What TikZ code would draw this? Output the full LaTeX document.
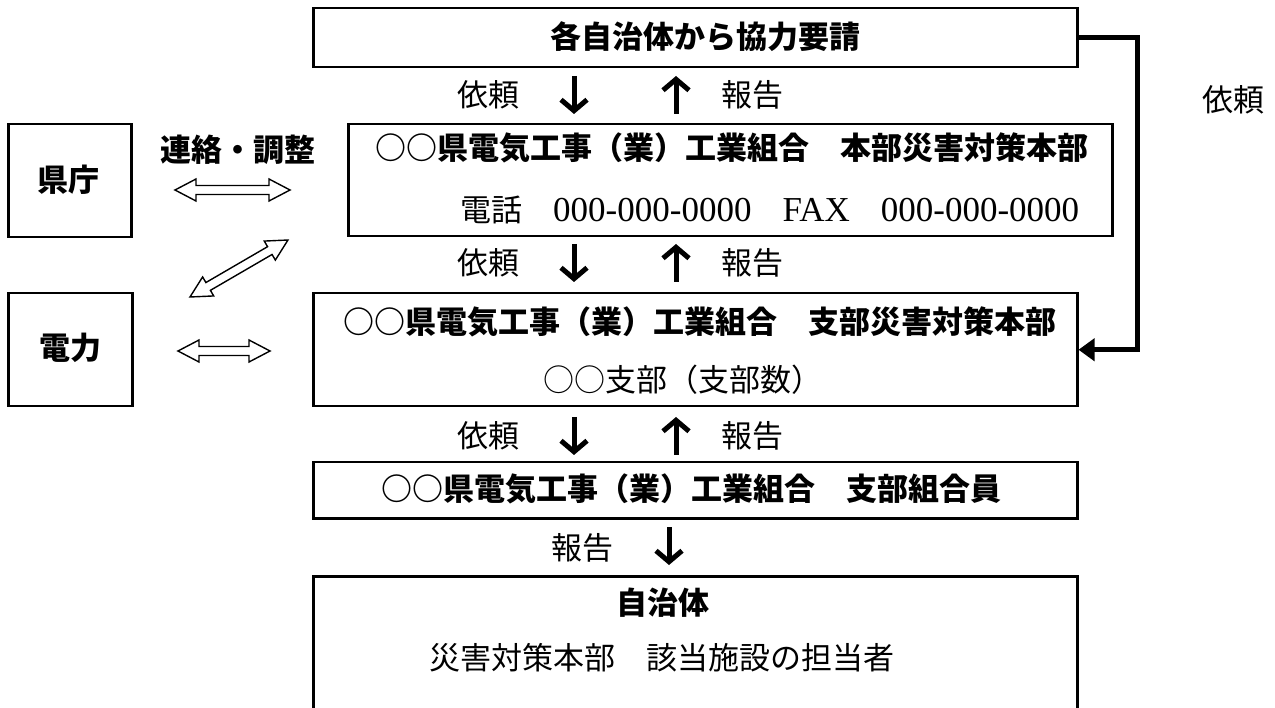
\documentclass[tikz,border=0pt]{standalone}
\usepackage{fontspec}
\newfontfamily\jp{Noto Sans CJK JP}
\newfontfamily\lat{Liberation Serif}
\usetikzlibrary{arrows.meta,calc}
\newcommand\hollowdbl[2]{%
  \path let \p1=(#1), \p2=(#2), \n1={atan2(\y2-\y1,\x2-\x1)}, \n2={veclen(\x2-\x1,\y2-\y1)} in
    \pgfextra{\xdef\dblang{\n1}\xdef\dbllen{\n2}};
  \begin{scope}[shift={(#1)}, rotate=\dblang, x=1pt, y=1pt]
    \draw[hollow] (0,0) -- (21,11) -- (21,4.5) -- (\dbllen-21,4.5) -- (\dbllen-21,11) -- (\dbllen,0)
      -- (\dbllen-21,-11) -- (\dbllen-21,-4.5) -- (21,-4.5) -- (21,-11) -- cycle;
  \end{scope}}
\newcommand\latn[1]{{\lat\fontsize{35}{35}\selectfont #1}}
\begin{document}
\begin{tikzpicture}[x=1pt,y=-1pt,
  box/.style={draw, line width=2.5pt, inner sep=0pt, anchor=north west},
  bt/.style={font=\jp\bfseries\fontsize{31}{31}\selectfont, inner sep=0pt},
  rt/.style={font=\jp\fontsize{31}{31}\selectfont, inner sep=0pt},
  vert/.style={line width=5pt, -{Straight Barb[length=11pt,width=26pt]}},
  conn/.style={line width=5pt, -{Triangle[length=16pt,width=22pt]}},
  hollow/.style={draw, fill=white, line width=1.4pt, line join=miter},
]
\useasboundingbox (0,0) rectangle (1275,708);

% boxes
\node[box, minimum width=764, minimum height=59]  (top)      at (312,7)   {};
\node[box, minimum width=764, minimum height=112] (honbu)    at (347,123) {};
\node[box, minimum width=764, minimum height=113] (shibu)    at (312,292) {};
\node[box, minimum width=764, minimum height=56]  (kumiai)   at (312,461) {};
\node[box, minimum width=764, minimum height=185] (jichitai) at (312,575) {};
\node[box, minimum width=123, minimum height=113] (kencho)   at (7,123)   {};
\node[box, minimum width=124, minimum height=113] (denryoku) at (7,292)   {};

% texts
\node[bt] (topt) at (705,37) {各自治体から協力要請};
\node[bt] (h1) at (732,148) {○○県電気工事（業）工業組合　本部災害対策本部};
\node[rt, anchor=west] (h2) at (460,210) {電話　\latn{000-000-0000}　\latn{FAX}　\latn{000-000-0000}};
\node[bt] (s1) at (700,322) {○○県電気工事（業）工業組合　支部災害対策本部};
\node[rt] (s2) at (683,380) {○○支部（支部数）};
\node[bt] (k1) at (691,489) {○○県電気工事（業）工業組合　支部組合員};
\node[bt] (j1) at (663,603) {自治体};
\node[rt] (j2) at (662,658) {災害対策本部　該当施設の担当者};
\node[bt] (kt) at (68,180) {県庁};
\node[bt] (dt) at (70,348) {電力};
\node[bt] (rr) at (238,150) {連絡・調整};

% row labels
\node[rt] (r1a) at (488,95) {依頼};
\node[rt] (r1b) at (752,95) {報告};
\node[rt] (r2a) at (488,263) {依頼};
\node[rt] (r2b) at (752,263) {報告};
\node[rt] (r3a) at (488,436) {依頼};
\node[rt] (r3b) at (752,436) {報告};
\node[rt] (r4a) at (582,548) {報告};
\node[rt] (irai) at (1233,100) {依頼};

% vertical arrows
\coordinate (d1s) at (574,76);  \coordinate (d1e) at (574,114);
\coordinate (u1s) at (676,114); \coordinate (u1e) at (676,76);
\coordinate (d2s) at (574,244); \coordinate (d2e) at (574,282);
\coordinate (u2s) at (676,282); \coordinate (u2e) at (676,244);
\coordinate (d3s) at (574,417); \coordinate (d3e) at (574,455);
\coordinate (u3s) at (676,455); \coordinate (u3e) at (676,417);
\coordinate (d4s) at (669,527); \coordinate (d4e) at (669,565);
\draw[vert] (d1s) -- (d1e);
\draw[vert] (u1s) -- (u1e);
\draw[vert] (d2s) -- (d2e);
\draw[vert] (u2s) -- (u2e);
\draw[vert] (d3s) -- (d3e);
\draw[vert] (u3s) -- (u3e);
\draw[vert] (d4s) -- (d4e);

% right connector
\coordinate (rc) at (1137,0);
\draw[conn] (top.east) -| (rc |- shibu.east) -- (shibu.east);

% hollow double arrows
\coordinate (ha1) at (175,190); \coordinate (ha2) at (290,190);
\coordinate (da1) at (190,297); \coordinate (da2) at (288,240);
\coordinate (hb1) at (178,351); \coordinate (hb2) at (270,351);
\hollowdbl{ha1}{ha2}
\hollowdbl{da1}{da2}
\hollowdbl{hb1}{hb2}
\end{tikzpicture}
\end{document}
